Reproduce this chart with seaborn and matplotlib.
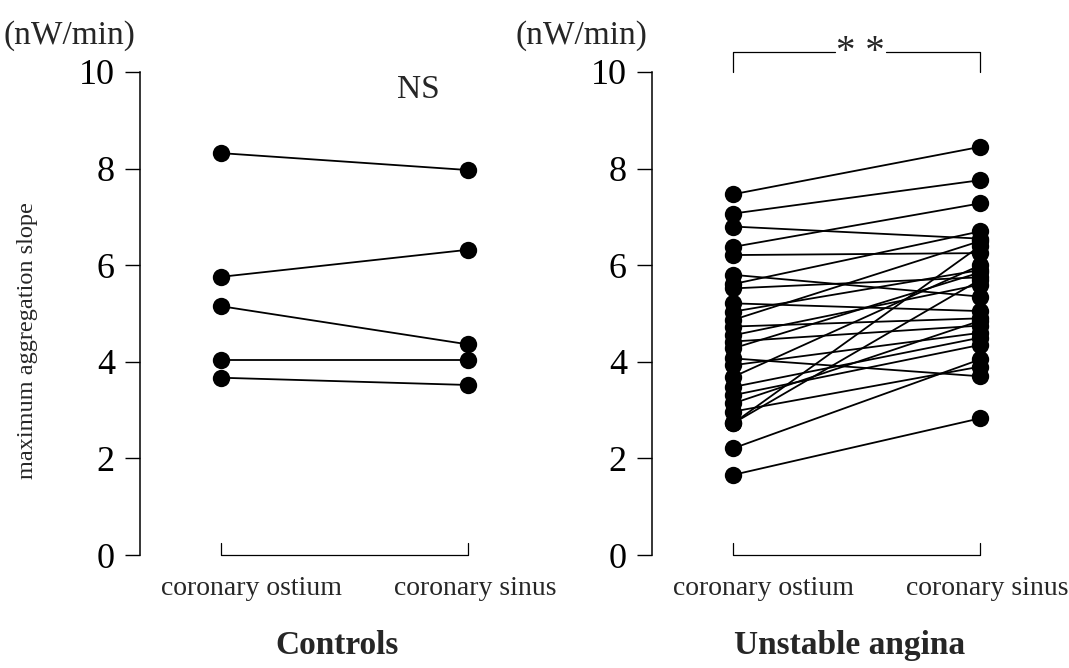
import numpy as np
import pandas as pd
import matplotlib.pyplot as plt
import seaborn as sns

# paired measurements (nW/min): coronary ostium vs coronary sinus
sites = ["coronary ostium", "coronary sinus"]

ctrl_ostium = [8.32, 5.76, 5.15, 4.04, 3.67]
ctrl_sinus = [7.97, 6.32, 4.36, 4.04, 3.52]

ua_ostium = [7.47, 7.07, 6.80, 6.38, 6.21, 5.80, 5.61, 5.52, 5.21, 5.04,
             4.87, 4.73, 4.55, 4.42, 4.28, 4.07, 3.93, 3.69, 3.48, 3.31,
             3.14, 2.97, 2.73, 2.73, 2.21, 1.66]
ua_sinus = [8.45, 7.76, 6.55, 7.28, 6.25, 5.35, 6.70, 5.75, 5.05, 5.90,
            6.50, 4.90, 5.60, 4.75, 5.85, 3.70, 4.60, 6.00, 4.50, 4.35,
            4.85, 3.90, 5.70, 6.40, 4.05, 2.83]

groups = ["Controls", "Unstable angina"]
y_ticks = [0, 2, 4, 6, 8, 10]


def to_long(ostium, sinus):
    n = len(ostium)
    return pd.DataFrame({
        "subject": list(range(n)) * 2,
        "site": [0] * n + [1] * n,
        "value": list(ostium) + list(sinus),
    })


sns.set_style("white")
plt.rcParams["font.family"] = ["Liberation Serif", "DejaVu Serif"]

fig = plt.figure(figsize=(10.69, 6.68), dpi=100)
W, H = 1069, 668
ax_l = fig.add_axes([140 / W, 113 / H, 417 / W, 483 / H])
ax_r = fig.add_axes([652 / W, 113 / H, 417 / W, 483 / H])

data = [(ctrl_ostium, ctrl_sinus), (ua_ostium, ua_sinus)]

for ax, (o, s), grp in zip([ax_l, ax_r], data, groups):
    df = to_long(o, s)
    sns.lineplot(data=df, x="site", y="value", units="subject", estimator=None,
                 color="black", linewidth=1.3, marker="o", markersize=12.5,
                 markeredgewidth=0, ax=ax, clip_on=False)
    ax.set_xlim(-0.33, 1.36)
    ax.set_ylim(0, 10)
    ax.set_yticks(y_ticks)
    ax.set_xticks([])
    ax.set_xlabel("")
    ax.set_ylabel("")
    for side in ["top", "right", "bottom"]:
        ax.spines[side].set_visible(False)
    ax.spines["left"].set_color("black")
    ax.spines["left"].set_linewidth(1.1)
    ax.tick_params(axis="y", direction="out", length=11, width=1.0,
                   pad=7, labelsize=26, left=True, colors="black")
    ax.patch.set_alpha(0)

    # bracket along the bottom
    ax.plot([0, 0, 1, 1], [0.25, 0, 0, 0.25], color="black", lw=0.9, clip_on=False)
    ax.text(0.12, -0.43, sites[0], ha="center", va="top", fontsize=20)
    ax.text(1.03, -0.43, sites[1], ha="center", va="top", fontsize=20)
    ax.text(0.47, -1.55, grp, ha="center", va="top", fontsize=24, fontweight="bold")
    ax.text(-0.35, 10.75, "(nW/min)", ha="right", va="center", fontsize=24)

ax_l.set_ylabel("maximum aggregation slope", fontsize=17.5)
ax_l.yaxis.set_label_coords(-102 / 417, 0.445)
ax_l.text(0.80, 9.63, "NS", ha="center", va="center", fontsize=24)

# significance bracket for unstable angina
ax_r.plot([0, 0, 0.41], [10.0, 10.42, 10.42], color="black", lw=0.9, clip_on=False)
ax_r.plot([0.62, 1.0, 1.0], [10.42, 10.42, 10.0], color="black", lw=0.9, clip_on=False)
ax_r.text(0.515, 10.40, "* *", ha="center", va="center", fontsize=28)

fig.savefig("out.png", dpi=100)
